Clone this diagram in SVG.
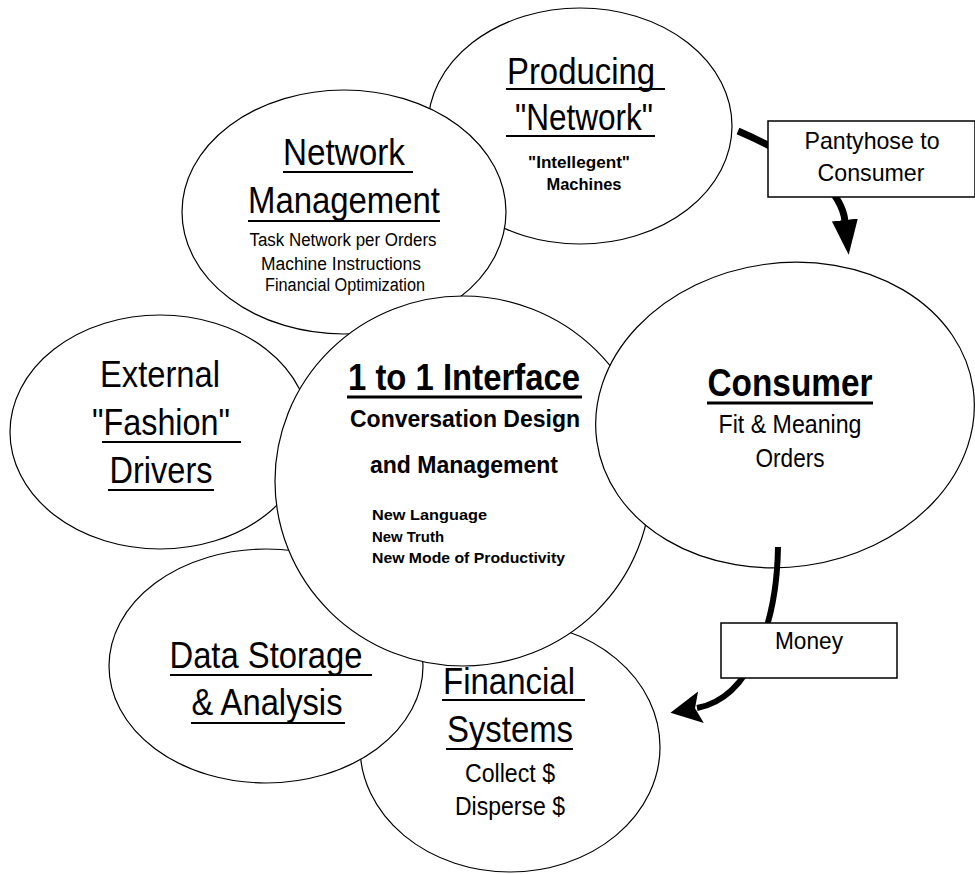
<svg xmlns="http://www.w3.org/2000/svg" width="975" height="874" viewBox="0 0 975 874">
<style>
  .bg { fill: #ffffff; }
  .node { fill: #ffffff; stroke: #000000; stroke-width: 1.2; }
  .t { font-family: "Liberation Sans", Arial, sans-serif; fill: #000000; text-anchor: middle; }
  .big { font-size: 36px; }
  .small { font-size: 18px; }
  .mid { font-size: 25px; }
  .bold { font-weight: bold; }
  .geo { font-family: "Liberation Sans", Arial, sans-serif; font-weight: bold; font-size: 15px; fill: #000000; }
  .ul { stroke: #000000; stroke-width: 2; }
  .ulb { stroke: #000000; stroke-width: 3; }
  .flow { fill: none; stroke: #000000; stroke-width: 7; }
  .box { fill: #ffffff; stroke: #000000; stroke-width: 1.5; }
</style>
<defs>
  <marker id="headA" markerUnits="userSpaceOnUse" viewBox="0 -14 36 28" refX="1" refY="0" markerWidth="36" markerHeight="28" orient="auto">
    <path d="M0,-13 L35,0 L0,13 Z" fill="#000000"/>
  </marker>
  <marker id="headB" markerUnits="userSpaceOnUse" viewBox="0 -17 32 34" refX="4" refY="0" markerWidth="32" markerHeight="34" orient="auto">
    <path d="M0,-16 L31,0 L0,16 L6,0 Z" fill="#000000"/>
  </marker>
</defs>
<rect class="bg" x="0" y="0" width="975" height="874"/>

<g id="producing">
  <ellipse class="node" cx="580" cy="126" rx="152" ry="118"/>
  <text class="t big" x="581" y="84" textLength="148" lengthAdjust="spacingAndGlyphs">Producing</text>
  <line class="ul" x1="506" y1="89" x2="665" y2="89"/>
  <text class="t big" x="584" y="130" textLength="138" lengthAdjust="spacingAndGlyphs">"Network"</text>
  <line class="ul" x1="506" y1="136" x2="655" y2="136"/>
  <text class="t bold" style="font-size:16px" x="579" y="168" textLength="102" lengthAdjust="spacingAndGlyphs">"Intellegent"</text>
  <text class="t bold" style="font-size:16px" x="584" y="190" textLength="75" lengthAdjust="spacingAndGlyphs">Machines</text>
</g>

<g id="network-management">
  <ellipse class="node" cx="344" cy="212" rx="162" ry="122"/>
  <text class="t big" x="344" y="165" textLength="122" lengthAdjust="spacingAndGlyphs">Network</text>
  <line class="ul" x1="283" y1="172" x2="413" y2="172"/>
  <text class="t big" x="344" y="213" textLength="192" lengthAdjust="spacingAndGlyphs">Management</text>
  <line class="ul" x1="248" y1="221" x2="440" y2="221"/>
  <text class="t small" x="343" y="246" textLength="187" lengthAdjust="spacingAndGlyphs">Task Network per Orders</text>
  <text class="t small" x="341" y="270" textLength="160" lengthAdjust="spacingAndGlyphs">Machine Instructions</text>
  <text class="t small" x="345" y="291" textLength="160" lengthAdjust="spacingAndGlyphs">Financial Optimization</text>
</g>

<g id="financial-systems">
  <ellipse class="node" cx="510" cy="747" rx="150" ry="125"/>
  <text class="t big" x="509" y="694" textLength="132" lengthAdjust="spacingAndGlyphs">Financial</text>
  <line class="ul" x1="442" y1="700" x2="585" y2="700"/>
  <text class="t big" x="510" y="742" textLength="126" lengthAdjust="spacingAndGlyphs">Systems</text>
  <line class="ul" x1="446" y1="749" x2="573" y2="749"/>
  <text class="t mid" x="510" y="782" textLength="90" lengthAdjust="spacingAndGlyphs">Collect $</text>
  <text class="t mid" x="510" y="815" textLength="110" lengthAdjust="spacingAndGlyphs">Disperse $</text>
</g>

<g id="data-storage">
  <ellipse class="node" cx="266" cy="666" rx="157" ry="117"/>
  <text class="t big" x="266" y="668" textLength="193" lengthAdjust="spacingAndGlyphs">Data Storage</text>
  <line class="ul" x1="170" y1="675" x2="372" y2="675"/>
  <text class="t big" x="267" y="715" textLength="151" lengthAdjust="spacingAndGlyphs">&amp; Analysis</text>
  <line class="ul" x1="191" y1="723" x2="345" y2="723"/>
</g>

<g id="external-fashion">
  <ellipse class="node" cx="160" cy="432" rx="150" ry="117"/>
  <text class="t big" x="160" y="387" textLength="120" lengthAdjust="spacingAndGlyphs">External</text>
  <text class="t big" x="161" y="435" textLength="138" lengthAdjust="spacingAndGlyphs">"Fashion"</text>
  <line class="ul" x1="102" y1="442" x2="241" y2="442"/>
  <text class="t big" x="161" y="483" textLength="103" lengthAdjust="spacingAndGlyphs">Drivers</text>
  <line class="ul" x1="108" y1="490" x2="214" y2="490"/>
</g>

<g id="interface">
  <ellipse class="node" cx="463" cy="481" rx="188" ry="185"/>
  <text class="t bold" style="font-size:36px" x="464" y="390" textLength="232" lengthAdjust="spacingAndGlyphs">1 to 1 Interface</text>
  <line class="ulb" x1="347" y1="397" x2="582" y2="397"/>
  <text class="t bold" style="font-size:23px" x="465" y="427" textLength="230" lengthAdjust="spacingAndGlyphs">Conversation Design</text>
  <text class="t bold" style="font-size:23px" x="464" y="473" textLength="188" lengthAdjust="spacingAndGlyphs">and Management</text>
  <text class="geo" x="372" y="520" textLength="115" lengthAdjust="spacingAndGlyphs">New Language</text>
  <text class="geo" x="372" y="542" textLength="72" lengthAdjust="spacingAndGlyphs">New Truth</text>
  <text class="geo" x="372" y="563" textLength="193" lengthAdjust="spacingAndGlyphs">New Mode of Productivity</text>
</g>

<g id="consumer">
  <ellipse class="node" cx="785" cy="415" rx="190" ry="152" transform="rotate(-8 785 415)"/>
  <text class="t bold" style="font-size:38px" x="790" y="396" textLength="165" lengthAdjust="spacingAndGlyphs">Consumer</text>
  <line class="ulb" x1="707" y1="403" x2="873" y2="403"/>
  <text class="t mid" x="790" y="433" textLength="143" lengthAdjust="spacingAndGlyphs">Fit &amp; Meaning</text>
  <text class="t mid" x="790" y="467" textLength="69" lengthAdjust="spacingAndGlyphs">Orders</text>
</g>

<g id="connectors">
  <path class="flow" d="M738,131 Q840,175 845,221" marker-end="url(#headA)"/>
  <path class="flow" style="stroke-width:6" d="M778,547 C777,620 752,698 697,708" marker-end="url(#headB)"/>
  <g id="label-pantyhose">
    <rect class="box" x="768" y="121" width="207" height="76"/>
    <text class="t" style="font-size:24px" x="872" y="149" textLength="135" lengthAdjust="spacingAndGlyphs">Pantyhose to</text>
    <text class="t" style="font-size:24px" x="871" y="181" textLength="107" lengthAdjust="spacingAndGlyphs">Consumer</text>
  </g>
  <g id="label-money">
    <rect class="box" x="721" y="623" width="176" height="55"/>
    <text class="t" style="font-size:24px" x="809" y="649" textLength="68" lengthAdjust="spacingAndGlyphs">Money</text>
  </g>
</g>
</svg>
